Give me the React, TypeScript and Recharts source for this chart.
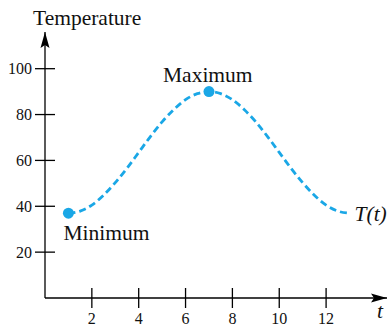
import React from 'react'
import { LineChart, Line, XAxis, YAxis, ReferenceDot } from 'recharts'

if (typeof document !== 'undefined') document.body.style.margin = '0'

// readings taken from the curve, every half hour of t
const times = [1, 1.5, 2, 2.5, 3, 3.5, 4, 4.5, 5, 5.5, 6, 6.5, 7, 7.5, 8, 8.5, 9, 9.5, 10, 10.5, 11, 11.5, 12, 12.5, 13]
const temps = [37, 37.9, 40.5, 44.8, 50.3, 56.6, 63.5, 70.4, 76.8, 82.2, 86.5, 89.1, 90, 89.1, 86.5, 82.2, 76.8, 70.4, 63.5, 56.6, 50.3, 44.8, 40.5, 37.9, 37]
const xTicks = [2, 4, 6, 8, 10, 12]
const yTicks = [20, 40, 60, 80, 100]
const minPoint = { t: 1, value: 37 }
const maxPoint = { t: 7, value: 90 }

const data = times.map((t, i) => ({ t, temp: temps[i] }))

const FONT = '"Liberation Serif", "Times New Roman", serif'
const BLUE = '#1aa7e6'

const XTick = ({ x, y, payload }: any) => (
  <g>
    <line x1={x} x2={x} y1={y - 22} y2={y - 2} stroke="#000" strokeWidth={1.3} />
    <text x={x} y={y + 14} textAnchor="middle" style={{ fontFamily: FONT, fontSize: 16 }} fill="#111">
      {payload.value}
    </text>
  </g>
)

const YTick = ({ x, y, payload }: any) => (
  <g>
    <line x1={x + 2} x2={x + 22} y1={y} y2={y} stroke="#000" strokeWidth={1.3} />
    <text x={x - 1} y={y + 5.5} textAnchor="end" style={{ fontFamily: FONT, fontSize: 16 }} fill="#111">
      {payload.value}
    </text>
  </g>
)

const UpArrow = ({ cx, cy }: any) => (
  <path d={`M${cx} ${cy} L${cx + 4.5} ${cy + 16} L${cx} ${cy + 13} L${cx - 4.5} ${cy + 16} Z`} fill="#000" />
)

const RightArrow = ({ cx, cy }: any) => (
  <path d={`M${cx} ${cy} L${cx - 16} ${cy - 4.5} L${cx - 13} ${cy} L${cx - 16} ${cy + 4.5} Z`} fill="#000" />
)

const textAt = (dx: number, dy: number, value: string, italic = false) => (props: any) => {
  const vb = props.viewBox || {}
  const cx = vb.x + (vb.width || 0) / 2
  const cy = vb.y + (vb.height || 0) / 2
  return (
    <text
      x={cx + dx}
      y={cy + dy}
      style={{ fontFamily: FONT, fontSize: 21.5, fontStyle: italic ? 'italic' : 'normal' }}
      fill="#111"
    >
      {value}
    </text>
  )
}

export default function App() {
  return (
    <LineChart width={389} height={326} data={data} margin={{ top: 32, right: 2, left: 0, bottom: 0 }}>
      <XAxis
        dataKey="t"
        type="number"
        domain={[0, 14.6]}
        allowDataOverflow
        ticks={xTicks}
        tickSize={10}
        tickMargin={2}
        tickLine={false}
        height={28}
        tick={<XTick />}
        axisLine={{ stroke: '#000', strokeWidth: 1.3 }}
      />
      <YAxis
        type="number"
        domain={[0, 116]}
        allowDataOverflow
        ticks={yTicks}
        tickSize={10}
        tickMargin={2}
        tickLine={false}
        width={45}
        tick={<YTick />}
        axisLine={{ stroke: '#000', strokeWidth: 1.3 }}
      />
      <Line
        type="monotone"
        dataKey="temp"
        stroke={BLUE}
        strokeWidth={2.8}
        strokeDasharray="7 4"
        dot={false}
        activeDot={false}
        isAnimationActive={false}
      />
      <ReferenceDot x={minPoint.t} y={minPoint.value} r={5.5} fill={BLUE} stroke="none" label={{ content: textAt(-5, 27, 'Minimum') }} />
      <ReferenceDot x={maxPoint.t} y={maxPoint.value} r={5.5} fill={BLUE} stroke="none" label={{ content: textAt(-46, -10, 'Maximum') }} />
      <ReferenceDot x={13} y={37} r={0} fill="none" stroke="none" label={{ content: textAt(5, 8, 'T(t)', true) }} />
      <ReferenceDot x={0} y={116} r={0} shape={<UpArrow />} label={{ content: textAt(-12, -7, 'Temperature') }} />
      <ReferenceDot x={14.6} y={0} r={0} shape={<RightArrow />} label={{ content: textAt(-10, 20, 't', true) }} />
    </LineChart>
  )
}
